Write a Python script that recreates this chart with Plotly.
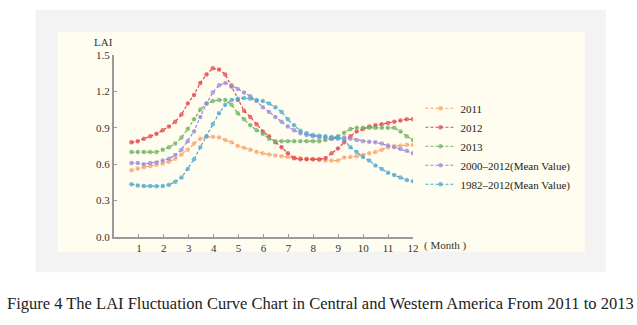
import numpy as np
import plotly.graph_objects as go

# 46 eight-day composites spread across the year, positioned on a month axis
month_pos = np.linspace(0.7, 12.0, 46)

lai_2011 = [0.55, 0.565, 0.575, 0.585, 0.595, 0.605, 0.62, 0.645, 0.68, 0.72,
            0.77, 0.81, 0.826, 0.826, 0.82, 0.80, 0.78, 0.75, 0.735, 0.72,
            0.70, 0.69, 0.68, 0.672, 0.665, 0.66, 0.655, 0.65, 0.645, 0.64,
            0.635, 0.63, 0.63, 0.63, 0.655, 0.66, 0.665, 0.675, 0.69, 0.70,
            0.72, 0.74, 0.75, 0.755, 0.76, 0.76]

lai_2012 = [0.78, 0.79, 0.81, 0.83, 0.85, 0.88, 0.91, 0.95, 1.01, 1.10,
            1.17, 1.27, 1.34, 1.39, 1.38, 1.34, 1.24, 1.13, 1.04, 0.99,
            0.93, 0.87, 0.83, 0.78, 0.74, 0.69, 0.65, 0.64, 0.64, 0.64,
            0.64, 0.65, 0.69, 0.73, 0.78, 0.83, 0.87, 0.89, 0.91, 0.92,
            0.93, 0.94, 0.95, 0.96, 0.97, 0.97]

lai_2013 = [0.70, 0.70, 0.70, 0.70, 0.70, 0.72, 0.74, 0.77, 0.82, 0.89,
            0.97, 1.05, 1.10, 1.12, 1.13, 1.13, 1.09, 1.02, 0.97, 0.92,
            0.88, 0.85, 0.81, 0.79, 0.79, 0.79, 0.79, 0.79, 0.79, 0.79,
            0.79, 0.80, 0.81, 0.83, 0.86, 0.89, 0.90, 0.90, 0.90, 0.90,
            0.90, 0.90, 0.90, 0.87, 0.83, 0.80]

lai_mean_2000_2012 = [0.61, 0.61, 0.60, 0.61, 0.615, 0.63, 0.645, 0.675, 0.72, 0.79,
                      0.87, 0.99, 1.10, 1.19, 1.25, 1.27, 1.25, 1.22, 1.19, 1.16,
                      1.12, 1.07, 1.03, 0.99, 0.95, 0.91, 0.88, 0.855, 0.84, 0.83,
                      0.82, 0.815, 0.81, 0.81, 0.82, 0.81, 0.80, 0.79, 0.785, 0.78,
                      0.77, 0.755, 0.74, 0.725, 0.71, 0.69]

lai_mean_1982_2012 = [0.435, 0.425, 0.42, 0.42, 0.418, 0.42, 0.43, 0.455, 0.49, 0.56,
                      0.64, 0.74, 0.83, 0.93, 1.02, 1.09, 1.13, 1.14, 1.145, 1.14,
                      1.13, 1.12, 1.10, 1.07, 1.03, 0.97, 0.92, 0.875, 0.855, 0.84,
                      0.835, 0.83, 0.825, 0.82, 0.80, 0.74, 0.70, 0.66, 0.63, 0.59,
                      0.56, 0.53, 0.51, 0.49, 0.47, 0.46]

series_names = ["2011", "2012", "2013", "2000\u20132012(Mean Value)", "1982\u20132012(Mean Value)"]
series_values = [lai_2011, lai_2012, lai_2013, lai_mean_2000_2012, lai_mean_1982_2012]
series_colors = ["#f9a46c", "#e6454f", "#6db35f", "#9a88d8", "#4ca8cf"]

month_ticks = list(range(1, 13))
lai_ticks = [0.0, 0.3, 0.6, 0.9, 1.2, 1.5]

serif = "Liberation Serif, Times New Roman, serif"

fig = go.Figure()
for name, vals, col in zip(series_names, series_values, series_colors):
    fig.add_trace(go.Scatter(
        x=month_pos, y=vals, name=name, mode="lines+markers",
        line=dict(color=col, width=1.2, dash="3px,2px"),
        marker=dict(color=col, size=4.5, opacity=0.75),
    ))

# page panel and chart panel behind the plot
fig.add_shape(type="rect", xref="paper", yref="paper", x0=-0.263, x1=1.645, y0=-0.194, y1=1.248,
              fillcolor="#f3f3f3", line=dict(width=0), layer="below")
fig.add_shape(type="rect", xref="paper", yref="paper", x0=-0.189, x1=1.575, y0=-0.079, y1=1.127,
              fillcolor="#fffdef", line=dict(width=0), layer="below")

fig.update_layout(
    width=637, height=325,
    margin=dict(l=114.4, r=224.4, t=55, b=88.3),
    paper_bgcolor="white", plot_bgcolor="rgba(0,0,0,0)",
    font=dict(family=serif, size=11, color="#333"),
    showlegend=True,
    legend=dict(x=1.025, y=0.787, xanchor="left", yanchor="top",
                bgcolor="rgba(0,0,0,0)", font=dict(family=serif, size=11, color="#222")),
    xaxis=dict(range=[0, 12], tickvals=month_ticks, ticktext=[str(m) for m in month_ticks],
               showgrid=False, zeroline=False, showline=True, linecolor="#9a9a9a", linewidth=2,
               ticks="inside", ticklen=3, tickcolor="#9a9a9a", tickfont=dict(size=11, color="#333")),
    yaxis=dict(range=[0, 1.5], tickvals=lai_ticks, tickformat=".1f",
               showgrid=False, zeroline=False, showline=True, linecolor="#9a9a9a", linewidth=2,
               ticks="inside", ticklen=3, tickcolor="#9a9a9a", tickfont=dict(size=11, color="#333")),
)

fig.add_annotation(text="LAI", xref="paper", yref="paper", x=-0.035, y=1.07,
                   xanchor="center", yanchor="middle",
                   showarrow=False, font=dict(size=11, color="#333"))
fig.add_annotation(text="( Month )", xref="paper", yref="paper", x=1.03, y=-0.046,
                   xanchor="left", yanchor="middle", showarrow=False, font=dict(size=11, color="#333"))
fig.add_annotation(text="Figure 4 The LAI Fluctuation Curve Chart in Central and Western America From 2011 to 2013",
                   xref="paper", yref="paper", x=0.689, y=-0.365, xanchor="center", yanchor="middle",
                   showarrow=False, font=dict(size=16.5, color="#222"))

fig.write_html("out.html")
